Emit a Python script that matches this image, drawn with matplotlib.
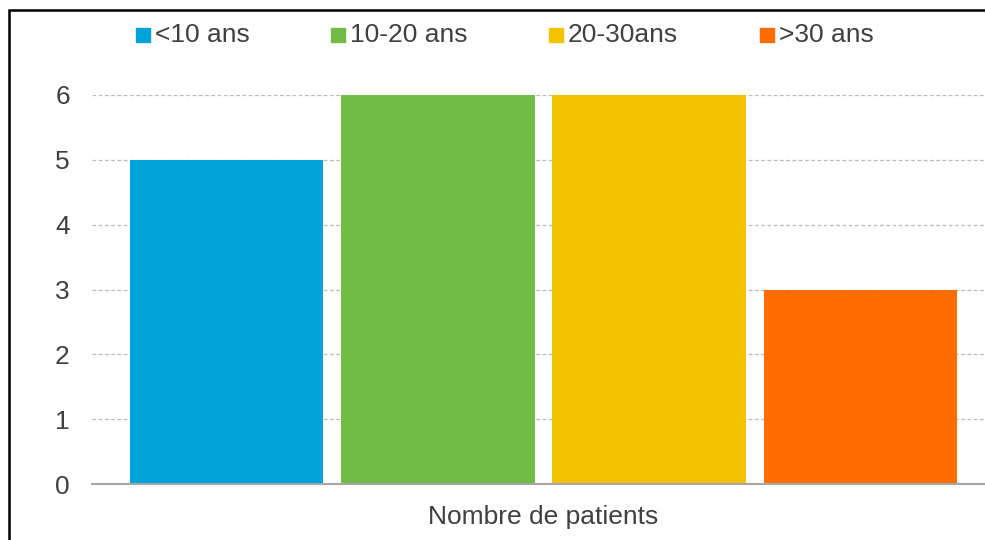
import matplotlib.pyplot as plt
from matplotlib.patches import Rectangle

plt.rcParams['font.family'] = ['Liberation Sans', 'DejaVu Sans']

# data
groups = ['<10 ans', '10-20 ans', '20-30ans', '>30 ans']
patients = [5, 6, 6, 3]
colors = ['#00A3D9', '#70BC45', '#F5C200', '#FF6D00']
yticks = [0, 1, 2, 3, 4, 5, 6]
xlabel = 'Nombre de patients'

W, H = 985, 540
fig = plt.figure(figsize=(W / 100, H / 100), dpi=100)

# plot area runs past the right edge of the picture (cropped chart)
ax = fig.add_axes([92 / W, 1 - 484 / H, (995 - 92) / W, (484 - 95) / H])
ax.bar(range(len(patients)), patients, width=0.915, color=colors, zorder=3)
ax.set_xlim(-0.637, 3.637)
ax.set_ylim(0, 6)
ax.set_yticks(yticks)
ax.set_xticks([])
ax.tick_params(axis='y', length=0, pad=16, labelsize=19, labelcolor='#404040')
ax.yaxis.grid(True, color='#BBBBBB', linestyle=(0, (3, 2)), linewidth=0.9, zorder=0)
for s in ['top', 'right', 'left']:
    ax.spines[s].set_visible(False)
ax.spines['bottom'].set_color('#A6A6A6')
ax.spines['bottom'].set_linewidth(1.5)
ax.spines['bottom'].set_zorder(4)
ax.set_xlabel(xlabel, fontsize=19, color='#404040', labelpad=15)

# legend, placed by hand like the Excel one
leg_x = [136, 331, 549, 760]
for x, lab, c in zip(leg_x, groups, colors):
    fig.patches.append(Rectangle((x / W, 1 - 42 / H), 14 / W, 14 / H,
                                 transform=fig.transFigure, color=c))
    fig.text((x + 19) / W, 1 - 35 / H, lab, fontsize=19, color='#404040',
             va='center', ha='left')

# outer frame, also cropped on right and bottom
fig.patches.append(Rectangle((9 / W, -0.05), 1.1, 1 - 10 / H + 0.05,
                             transform=fig.transFigure, fill=False,
                             edgecolor='black', linewidth=1.8))

fig.savefig('out.png', dpi=100)
